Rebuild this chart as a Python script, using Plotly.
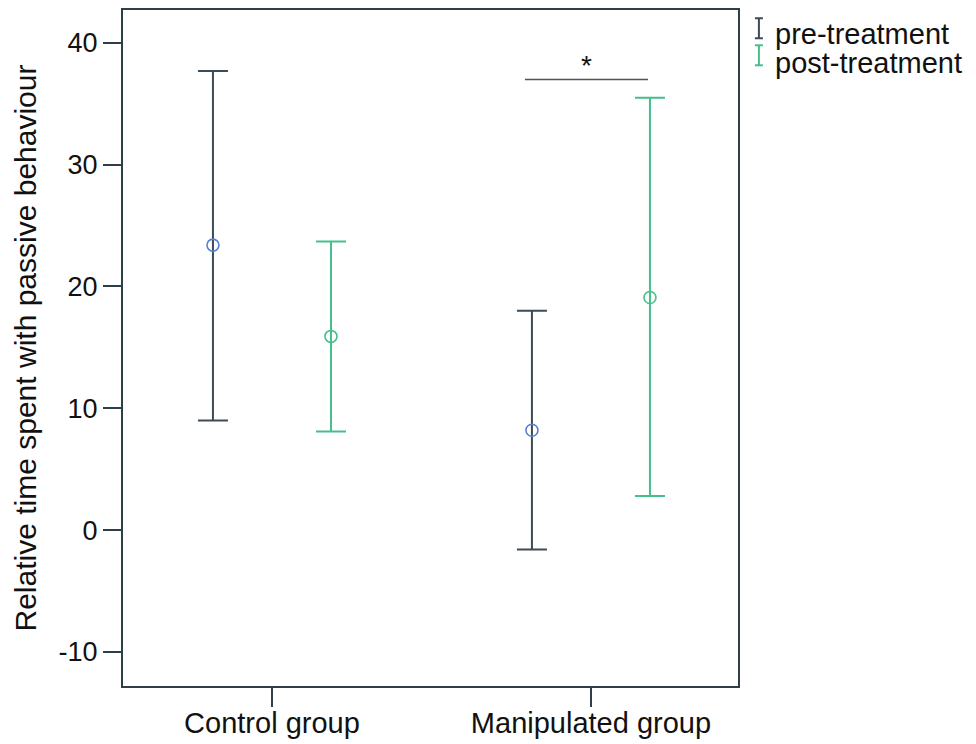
import plotly.graph_objects as go

# Group means with lower/upper bounds of the error bars
groups = ["Control group", "Manipulated group"]
pre_mean = [23.4, 8.2]
pre_lower = [9.0, -1.6]
pre_upper = [37.7, 18.0]
post_mean = [15.9, 19.1]
post_lower = [8.1, 2.8]
post_upper = [23.7, 35.5]

series_names = ["pre-treatment", "post-treatment"]
y_ticks = [-10, 0, 10, 20, 30, 40]
y_tick_text = ["-10", "0", "10", "20", "30", "40"]

# Significance bracket between the manipulated-group conditions
sig_x = [0.793, 1.179]
sig_y = 37.0
sig_label = "*"

PRE_LINE = "#3c4b56"
PRE_MARK = "#5b7fd2"
POST_LINE = "#45bf8c"
POST_MARK = "#45bf8c"
FONT = "Liberation Sans, Arial, sans-serif"
OFFSET = 0.185

group_pos = list(range(len(groups)))


def add_series(mean, lower, upper, shift, line_col, mark_col, name):
    fig.add_trace(go.Scatter(
        x=[p + shift for p in group_pos],
        y=mean,
        mode="markers",
        name=name,
        showlegend=False,
        marker=dict(symbol="circle-open", size=12, color=mark_col,
                    line=dict(width=1.6, color=mark_col)),
        error_y=dict(type="data", symmetric=False,
                     array=[u - m for u, m in zip(upper, mean)],
                     arrayminus=[m - l for m, l in zip(mean, lower)],
                     color=line_col, thickness=2, width=15),
    ))


fig = go.Figure()
add_series(pre_mean, pre_lower, pre_upper, -OFFSET, PRE_LINE, PRE_MARK, series_names[0])
add_series(post_mean, post_lower, post_upper, OFFSET, POST_LINE, POST_MARK, series_names[1])

# significance line and asterisk
fig.add_shape(type="line", xref="x", yref="y", x0=sig_x[0], x1=sig_x[1],
              y0=sig_y, y1=sig_y, line=dict(color="#4a5560", width=1.5))
fig.add_annotation(x=sum(sig_x) / 2, y=sig_y, xref="x", yref="y", text=sig_label,
                   showarrow=False, yanchor="bottom", yshift=-4,
                   font=dict(family=FONT, size=28, color="#111"))

# legend: error-bar glyph + label for each series
legend_rows = [(0.9645, 0.973, PRE_LINE, series_names[0]),
               (0.921, 0.933, POST_LINE, series_names[1])]
for ytxt, gy, col, label in legend_rows:
    gx, half_w, half_h = 1.034, 0.0065, 0.0148
    fig.add_shape(type="line", xref="paper", yref="paper", x0=gx, x1=gx,
                  y0=gy - half_h, y1=gy + half_h, line=dict(color=col, width=2))
    for yy in (gy - half_h, gy + half_h):
        fig.add_shape(type="line", xref="paper", yref="paper", x0=gx - half_w,
                      x1=gx + half_w, y0=yy, y1=yy, line=dict(color=col, width=2))
    fig.add_annotation(x=1.057, y=ytxt, xref="paper", yref="paper",
                       text=label, showarrow=False, xanchor="left", yanchor="middle",
                       font=dict(family=FONT, size=29, color="#111"))

fig.update_layout(
    width=976, height=744,
    margin=dict(l=123, r=238, t=10, b=58),
    paper_bgcolor="white", plot_bgcolor="white",
    font=dict(family=FONT, size=29, color="#111"),
    showlegend=False,
)
fig.update_xaxes(
    range=[-0.467, 1.461], tickvals=group_pos, ticktext=groups,
    showgrid=False, zeroline=False, showline=True, linecolor="#2f3f49",
    linewidth=2, mirror=True, ticks="outside", ticklen=19, tickwidth=2,
    tickcolor="#2f3f49", tickfont=dict(size=29, color="#111"), automargin=False,
    ticklabelstandoff=-9,
)
fig.update_yaxes(
    range=[-12.8, 42.7], tickvals=y_ticks, ticktext=y_tick_text,
    showgrid=False, zeroline=False, showline=True, linecolor="#2f3f49",
    linewidth=2, mirror=True, ticks="outside", ticklen=18, tickwidth=2,
    tickcolor="#2f3f49", tickfont=dict(size=27, color="#111"), automargin=False,
    title=dict(text="Relative time spent with passive behaviour",
               font=dict(size=30, color="#111"), standoff=13),
)

fig.write_html("out.html")
